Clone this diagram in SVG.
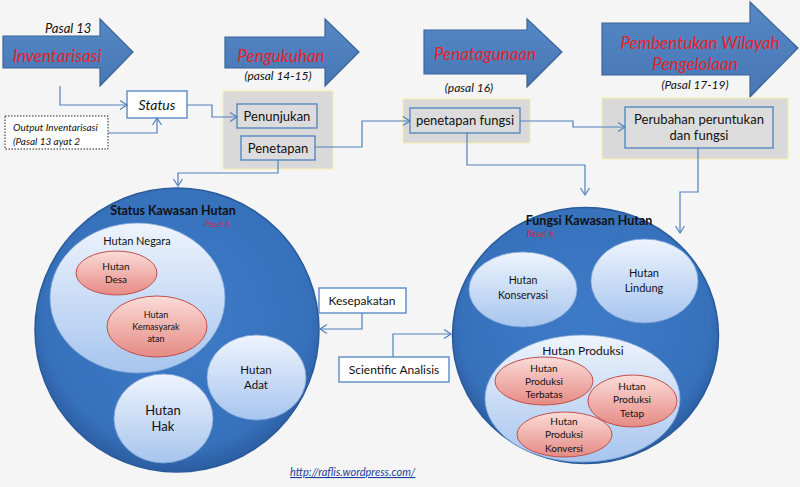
<svg xmlns="http://www.w3.org/2000/svg" width="800" height="487" viewBox="0 0 800 487">
<defs>
<style>
text{font-family:Lato,"Open Sans","Liberation Sans",sans-serif;fill:#111}
.arr{fill:url(#ga);stroke:#3a6596;stroke-width:1.2}
.red{fill:#e3232c;font-style:italic;font-size:17px}
.it{font-style:italic}
.grp{fill:#d9d9d9;stroke:#f5f0a8;stroke-width:1}
.ib{fill:#dcdcdc;stroke:#4f81bd;stroke-width:1.3}
.con{fill:none;stroke:#4f81bd;stroke-width:1.2;marker-end:url(#m)}
.big{fill:url(#gb);stroke:#2a5a9a;stroke-width:1.5}
.lb{fill:url(#gl);stroke:#7ea3d6;stroke-width:0.8}
.rd{fill:url(#gr);stroke:#c0504d;stroke-width:1}
.c{text-anchor:middle}
</style>
<linearGradient id="ga" x1="0" y1="0" x2="0" y2="1"><stop offset="0" stop-color="#5688c6"/><stop offset="1" stop-color="#4777b4"/></linearGradient>
<radialGradient id="gb" cx="0.5" cy="0.45" r="0.55"><stop offset="0" stop-color="#3e7bc7"/><stop offset="0.85" stop-color="#3771bc"/><stop offset="1" stop-color="#2b5c9f"/></radialGradient>
<linearGradient id="gl" x1="0" y1="0" x2="0" y2="1"><stop offset="0" stop-color="#eef4fd"/><stop offset="1" stop-color="#a7c5ee"/></linearGradient>
<linearGradient id="gr" x1="0" y1="0" x2="0" y2="1"><stop offset="0" stop-color="#fbdcd8"/><stop offset="1" stop-color="#e68a84"/></linearGradient>
<marker id="m" markerUnits="userSpaceOnUse" markerWidth="12" markerHeight="12" refX="8" refY="5" orient="auto"><path d="M1,0.5 L8,5 L1,9.5" fill="none" stroke="#4f81bd" stroke-width="1.2"/></marker>
</defs>
<rect width="800" height="487" fill="#f5f5f5"/>

<g id="arrow-inventarisasi">
<polygon class="arr" points="3,36 100,36 100,19 133,52 100,86 100,68 3,68"/>
<text x="45" y="33" font-size="13" class="it">Pasal 13</text>
<text x="57" y="62" class="red c">Inventarisasi</text>
</g>
<g id="arrow-pengukuhan">
<polygon class="arr" points="225,37 325,37 325,19 359,52 325,86 325,68 225,68"/>
<text x="281" y="62" class="red c">Pengukuhan</text>
<text x="278" y="80" font-size="12" class="it c">(pasal 14-15)</text>
</g>
<g id="arrow-penatagunaan">
<polygon class="arr" points="424,30 527,30 527,19 562,52 527,87 527,74 424,74"/>
<text x="485" y="60" class="red c">Penatagunaan</text>
<text x="469" y="92" font-size="12" class="it c">(pasal 16)</text>
</g>
<g id="arrow-pembentukan">
<polygon class="arr" points="602,23 750,23 750,2 798,48 750,97 750,75 602,75"/>
<text x="700" y="49" class="red c">Pembentukan Wilayah</text>
<text x="695" y="70" class="red c">Pengelolaan</text>
<text x="695" y="89" font-size="12" class="it c">(Pasal 17-19)</text>
</g>

<g id="group-boxes">
<rect class="grp" x="223" y="91" width="110" height="78"/>
<rect class="grp" x="403" y="99" width="127" height="44"/>
<rect class="grp" x="602" y="98" width="186" height="61"/>
</g>

<g id="status">
<rect x="127" y="91" width="60" height="27" fill="#fff" stroke="#4f81bd" stroke-width="1.3"/>
<text x="157" y="110" font-size="14" class="it c">Status</text>
</g>
<g id="output-inventarisasi">
<rect x="5" y="116" width="103" height="33" fill="#fff" stroke="#222" stroke-width="1" stroke-dasharray="1.5,1.5"/>
<text x="13" y="131" font-size="10" class="it">Output Inventarisasi</text>
<text x="13" y="145" font-size="10" class="it">(Pasal 13 ayat 2</text>
</g>
<g id="penunjukan">
<rect class="ib" x="237" y="104" width="80" height="24"/>
<text x="277" y="121" font-size="13" class="c">Penunjukan</text>
</g>
<g id="penetapan">
<rect class="ib" x="241" y="136" width="74" height="24"/>
<text x="278" y="153" font-size="13" class="c">Penetapan</text>
</g>
<g id="penetapan-fungsi">
<rect class="ib" x="410" y="108" width="110" height="25"/>
<text x="465" y="125" font-size="13" class="c">penetapan fungsi</text>
</g>
<g id="perubahan">
<rect class="ib" x="625" y="107" width="148" height="41"/>
<text x="699" y="124" font-size="13" class="c">Perubahan peruntukan</text>
<text x="699" y="140" font-size="13" class="c">dan fungsi</text>
</g>

<g id="status-kawasan-hutan">
<circle class="big" cx="177" cy="330" r="142"/>
<text x="173" y="215" font-size="12.5" font-weight="bold" class="c">Status Kawasan Hutan</text>
<text x="217" y="227" font-size="8.5" class="it c" style="fill:#d0284a">Pasal 5</text>
<ellipse class="lb" cx="137.5" cy="298" rx="87.5" ry="75"/>
<text x="137" y="245" font-size="11" class="c">Hutan Negara</text>
</g>
<g id="hutan-desa">
<ellipse class="rd" cx="116.5" cy="273" rx="40.5" ry="22"/>
<text x="116" y="270" font-size="10" class="c">Hutan</text>
<text x="116" y="283" font-size="10" class="c">Desa</text>
</g>
<g id="hutan-kemasyarakatan">
<ellipse class="rd" cx="157" cy="326.5" rx="50" ry="30.5"/>
<text x="156" y="318" font-size="9" class="c">Hutan</text>
<text x="156" y="330" font-size="9" class="c">Kemasyarak</text>
<text x="156" y="342" font-size="9" class="c">atan</text>
</g>
<g id="hutan-adat">
<ellipse class="lb" cx="256.5" cy="377.5" rx="49.5" ry="42.5"/>
<text x="256" y="374" font-size="11.5" class="c">Hutan</text>
<text x="256" y="389" font-size="11.5" class="c">Adat</text>
</g>
<g id="hutan-hak">
<ellipse class="lb" cx="163.5" cy="418.5" rx="49.5" ry="44.5"/>
<text x="163" y="415" font-size="13" class="c">Hutan</text>
<text x="163" y="431" font-size="13" class="c">Hak</text>
</g>

<g id="fungsi-kawasan-hutan">
<ellipse class="big" cx="585.5" cy="335.5" rx="133" ry="128"/>
<text x="589" y="225" font-size="12.5" font-weight="bold" class="c">Fungsi Kawasan Hutan</text>
<text x="540" y="237" font-size="9" class="it c" style="fill:#d0284a">Pasal 6</text>
</g>
<g id="hutan-konservasi">
<ellipse class="lb" cx="523" cy="289.5" rx="54" ry="37.5"/>
<text x="523" y="284" font-size="10.5" class="c">Hutan</text>
<text x="523" y="299" font-size="10.5" class="c">Konservasi</text>
</g>
<g id="hutan-lindung">
<ellipse class="lb" cx="644.5" cy="281" rx="53.5" ry="42"/>
<text x="644" y="277" font-size="11" class="c">Hutan</text>
<text x="644" y="292" font-size="11" class="c">Lindung</text>
</g>
<g id="hutan-produksi">
<ellipse class="lb" cx="582.5" cy="398.5" rx="97.5" ry="63.5"/>
<text x="583" y="355" font-size="12" class="c">Hutan Produksi</text>
</g>
<g id="hp-terbatas">
<ellipse class="rd" cx="544" cy="381" rx="49" ry="24"/>
<text x="544" y="372" font-size="10" class="c">Hutan</text>
<text x="544" y="385" font-size="10" class="c">Produksi</text>
<text x="544" y="398" font-size="10" class="c">Terbatas</text>
</g>
<g id="hp-tetap">
<ellipse class="rd" cx="632.5" cy="401" rx="44.5" ry="26"/>
<text x="632" y="390" font-size="10" class="c">Hutan</text>
<text x="632" y="403" font-size="10" class="c">Produksi</text>
<text x="632" y="417" font-size="10" class="c">Tetap</text>
</g>
<g id="hp-konversi">
<ellipse class="rd" cx="564.5" cy="434.5" rx="47.5" ry="22.5"/>
<text x="564" y="425" font-size="10" class="c">Hutan</text>
<text x="564" y="438" font-size="10" class="c">Produksi</text>
<text x="564" y="452" font-size="10" class="c">Konversi</text>
</g>

<g id="kesepakatan">
<rect x="319" y="288" width="87" height="25" fill="#fff" stroke="#4f81bd" stroke-width="1.3"/>
<text x="362" y="305" font-size="12" class="c">Kesepakatan</text>
</g>
<g id="scientific-analisis">
<rect x="339" y="357" width="110" height="25" fill="#fff" stroke="#4f81bd" stroke-width="1.3"/>
<text x="394" y="374" font-size="12" class="c">Scientific Analisis</text>
</g>

<g id="connectors">
<path class="con" d="M60,86 V105 H127"/>
<path class="con" d="M108,133 H157 V118"/>
<path class="con" d="M187,105 H212 V117 H237"/>
<path class="con" d="M278,160 V173 H178 V186"/>
<path class="con" d="M315,147 H362 V121 H410"/>
<path class="con" d="M520,121 H573 V127 H625"/>
<path class="con" d="M467,133 V165 H585 V195"/>
<path class="con" d="M698,148 V192 H680 V233"/>
<path class="con" d="M362,313 V329 H320"/>
<path class="con" d="M393,357 V334 H451"/>
</g>

<text x="290" y="476" font-size="11" class="it" style="fill:#1f3f9a;text-decoration:underline">http://raflis.wordpress.com/</text>
</svg>
